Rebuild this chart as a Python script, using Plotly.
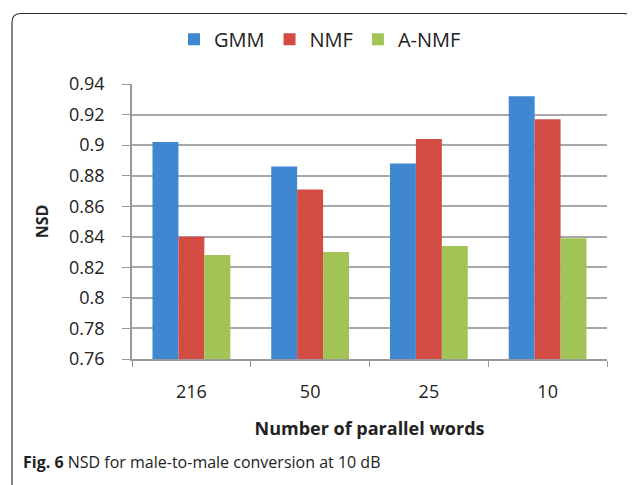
import plotly.graph_objects as go

categories = ["216", "50", "25", "10"]
gmm = [0.902, 0.886, 0.888, 0.932]
nmf = [0.840, 0.871, 0.904, 0.917]
anmf = [0.828, 0.830, 0.834, 0.839]
series_names = ["GMM", "NMF", "A-NMF"]
colors = ["#3F87D0", "#D34C44", "#A2C356"]
y_tickvals = [0.76, 0.78, 0.80, 0.82, 0.84, 0.86, 0.88, 0.90, 0.92, 0.94]
y_ticktext = ["0.76", "0.78", "0.8", "0.82", "0.84", "0.86", "0.88", "0.9", "0.92", "0.94"]

FONT = "Open Sans"
OFF = 8  # page body margin
W, H = 635 - OFF, 485 - OFF
# target plot area in window pixels
PX0, PX1, PY0, PY1 = 132, 607, 82, 359
L, T = PX0 - OFF, PY0 - OFF
R, B = W - (PX1 - OFF), H - (PY1 - OFF)
pw, ph = PX1 - PX0, PY1 - PY0

def px(x):
    return (x - PX0) / pw

def py(y):
    return (PY1 - y) / ph

fig = go.Figure()
for name, vals, c in zip(series_names, [gmm, nmf, anmf], colors):
    fig.add_trace(go.Bar(x=categories, y=[v - 0.76 for v in vals], base=0.76,
                         name=name, marker=dict(color=c, line=dict(width=0))))

# rounded border frame
x0, x1, y0, y1 = px(12), px(633), py(11), py(495)
rx, ry = 9 / pw, 9 / ph
path = (f"M {x0},{y1} L {x0},{y0 - ry} Q {x0},{y0} {x0 + rx},{y0} "
        f"L {x1 - rx},{y0} Q {x1},{y0} {x1},{y0 - ry} L {x1},{y1}")
fig.add_shape(type="path", path=path, xref="paper", yref="paper",
              line=dict(color="#333333", width=1.2))

fig.add_annotation(text="<b>Fig. 6</b> NSD for male-to-male conversion at 10 dB",
                   xref="paper", yref="paper", x=px(21), y=py(463),
                   xanchor="left", yanchor="middle", showarrow=False,
                   font=dict(family=FONT, size=16, color="#222222"))

fig.update_layout(
    width=W, height=H,
    margin=dict(l=L, r=R, t=T, b=B),
    paper_bgcolor="white", plot_bgcolor="white",
    barmode="group", bargap=0.345, bargroupgap=0,
    font=dict(family=FONT, color="#222222"),
    showlegend=True,
    legend=dict(orientation="h", x=px(320), xanchor="center", y=py(37), yanchor="middle",
                font=dict(family=FONT, size=20, color="#222222"),
                itemwidth=30, tracegroupgap=0),
    xaxis=dict(type="category", showline=True, linecolor="#9A9A9A", linewidth=1.5,
               ticks="outside", tickson="boundaries", ticklen=6, tickcolor="#9A9A9A",
               tickfont=dict(family=FONT, size=18, color="#222222"),
               ticklabelstandoff=16,
               title=dict(text="<b>Number of parallel words</b>", standoff=20,
                          font=dict(family=FONT, size=18, color="#222222"))),
    yaxis=dict(range=[0.76, 0.94], tickvals=y_tickvals, ticktext=y_ticktext,
               showline=True, linecolor="#9A9A9A", linewidth=1.5,
               showgrid=True, gridcolor="#A8A8A8", gridwidth=1.5,
               ticks="outside", ticklen=8, tickcolor="#9A9A9A",
               tickfont=dict(family=FONT, size=18, color="#222222"),
               ticklabelstandoff=14, zeroline=False,
               title=dict(text="<b>NSD</b>", standoff=16,
                          font=dict(family=FONT, size=16, color="#222222"))),
)

fig.write_html("out.html")
